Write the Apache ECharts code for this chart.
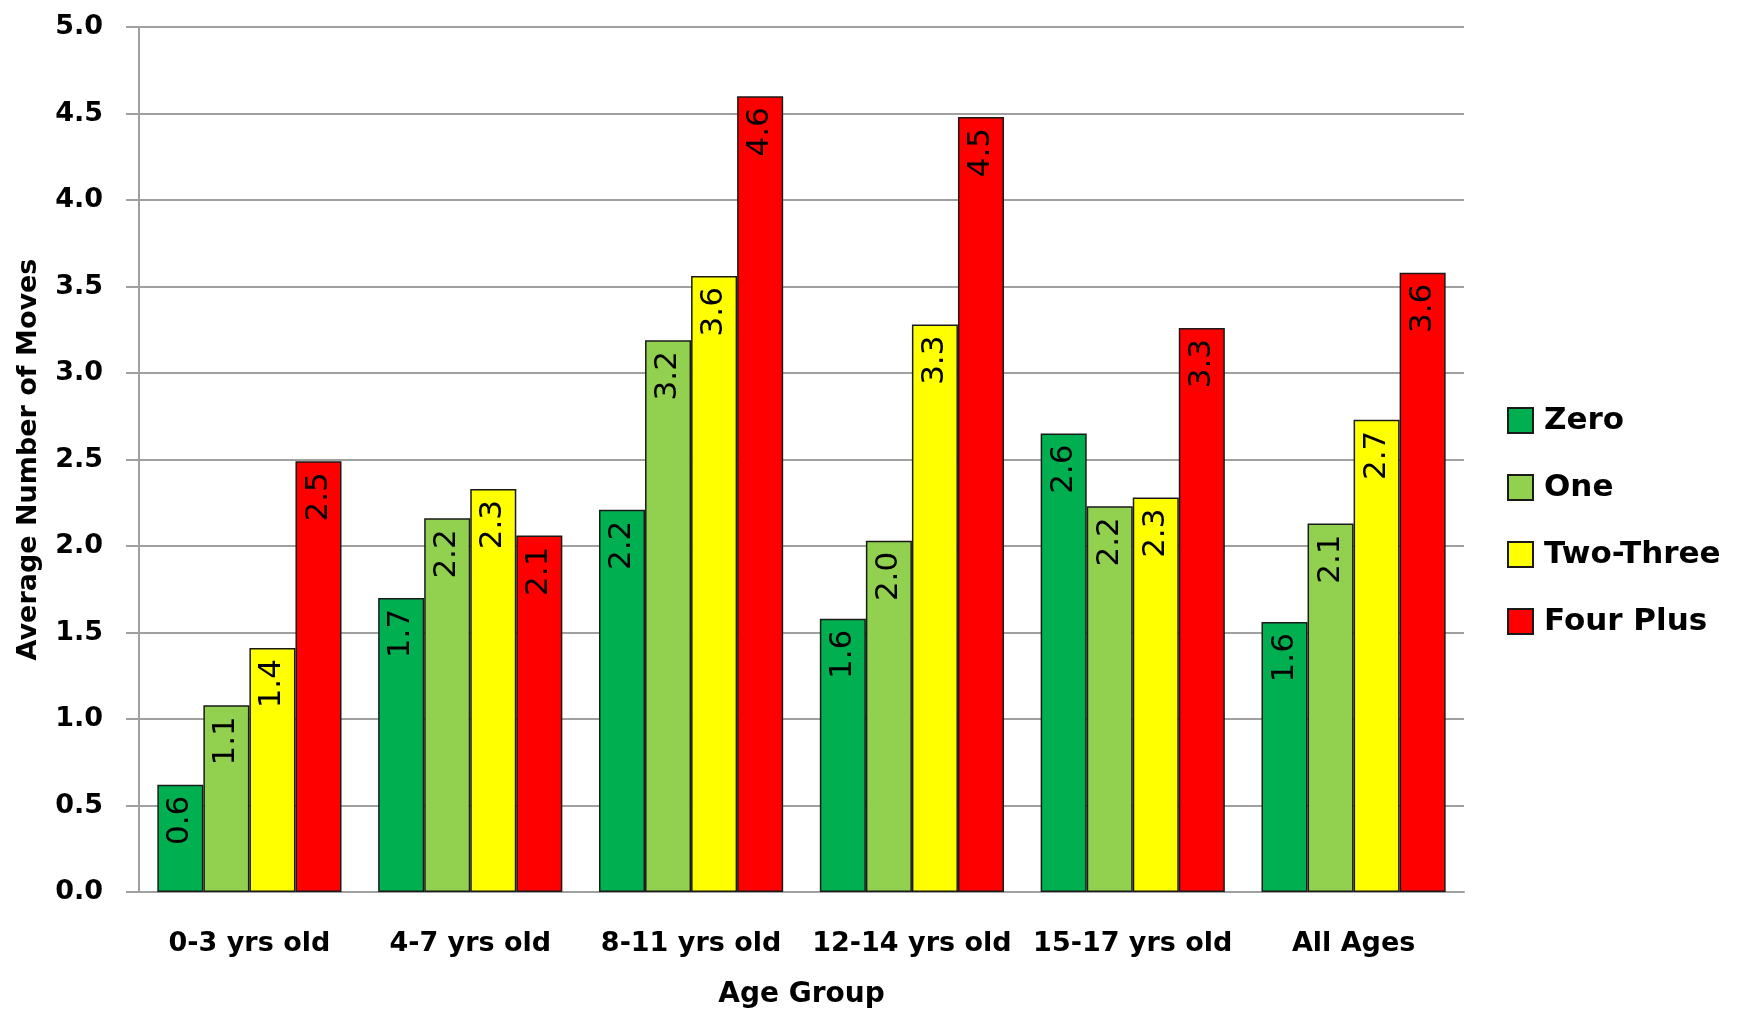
<!DOCTYPE html>
<html>
<head>
<meta charset="utf-8">
<title>Average Number of Moves by Age Group</title>
<script src="https://cdn.jsdelivr.net/npm/echarts@6/dist/echarts.min.js"></script>
<style>
  html, body { margin: 0; padding: 0; background: #fff; }
  #main { width: 1739px; height: 1010px; }
</style>
</head>
<body>
<div id="main"></div>
<script>
// categories on the x axis
var ageGroups = ['0-3 yrs old', '4-7 yrs old', '8-11 yrs old', '12-14 yrs old', '15-17 yrs old', 'All Ages'];

// one list per legend entry
var zero      = [0.62, 1.70, 2.21, 1.58, 2.65, 1.56];
var one       = [1.08, 2.16, 3.19, 2.03, 2.23, 2.13];
var twoThree  = [1.41, 2.33, 3.56, 3.28, 2.28, 2.73];
var fourPlus  = [2.49, 2.06, 4.60, 4.48, 3.26, 3.58];

var seriesNames  = ['Zero', 'One', 'Two-Three', 'Four Plus'];
var seriesColors = ['#00b050', '#92d050', '#ffff00', '#ff0000'];

var chart = echarts.init(document.getElementById('main'));

var boldFont = 'DejaVu Sans';

function makeBar(name, data, color) {
  return {
    name: name,
    type: 'bar',
    data: data,
    barGap: '0%',
    barCategoryGap: '16.6%',
    itemStyle: {
      color: color,
      borderColor: '#1a1a1a',
      borderWidth: 1.5
    },
    label: {
      show: true,
      position: 'insideTop',
      distance: 11,
      rotate: 90,
      align: 'right',
      verticalAlign: 'middle',
      fontFamily: 'DejaVu Sans',
      fontSize: 31,
      color: '#000',
      formatter: function (p) { return p.value.toFixed(1); }
    }
  };
}

var option = {
  backgroundColor: '#fff',
  animation: false,
  grid: {
    left: 139,
    right: 275,
    top: 27,
    bottom: 118,
    containLabel: false,
    outerBoundsMode: 'none'   // keep the plot box fixed, names may sit near the edge
  },
  legend: {
    orient: 'vertical',
    left: 1502,
    top: 400,
    itemWidth: 25,
    itemHeight: 25,
    itemGap: 36,
    icon: 'rect',
    textStyle: {
      fontFamily: boldFont,
      fontWeight: 'bold',
      fontSize: 31,
      color: '#000',
      padding: [0, 0, 0, 6]
    },
    data: seriesNames
  },
  xAxis: {
    type: 'category',
    data: ageGroups,
    name: 'Age Group',
    nameLocation: 'middle',
    nameGap: 89,
    nameTextStyle: {
      fontFamily: boldFont,
      fontWeight: 'bold',
      fontSize: 28,
      color: '#000'
    },
    axisLine: { lineStyle: { color: '#a0a0a0', width: 2 } },
    axisTick: { show: false },
    axisLabel: {
      interval: 0,
      margin: 38,
      fontFamily: boldFont,
      fontWeight: 'bold',
      fontSize: 27,
      color: '#000'
    }
  },
  yAxis: {
    type: 'value',
    min: 0,
    max: 5,
    interval: 0.5,
    name: 'Average Number of Moves',
    nameLocation: 'middle',
    nameGap: 97,
    nameTextStyle: {
      fontFamily: boldFont,
      fontWeight: 'bold',
      fontSize: 27,
      color: '#000'
    },
    axisLine: { show: true, lineStyle: { color: '#a0a0a0', width: 2 } },
    axisTick: { show: true, length: 13, lineStyle: { color: '#a0a0a0', width: 2 } },
    splitLine: { lineStyle: { color: '#a0a0a0', width: 2 } },
    axisLabel: {
      margin: 36,
      fontFamily: boldFont,
      fontWeight: 'bold',
      fontSize: 27,
      color: '#000',
      formatter: function (v) { return v.toFixed(1); }
    }
  },
  series: [
    makeBar(seriesNames[0], zero, seriesColors[0]),
    makeBar(seriesNames[1], one, seriesColors[1]),
    makeBar(seriesNames[2], twoThree, seriesColors[2]),
    makeBar(seriesNames[3], fourPlus, seriesColors[3])
  ]
};

chart.setOption(option);
</script>
</body>
</html>
